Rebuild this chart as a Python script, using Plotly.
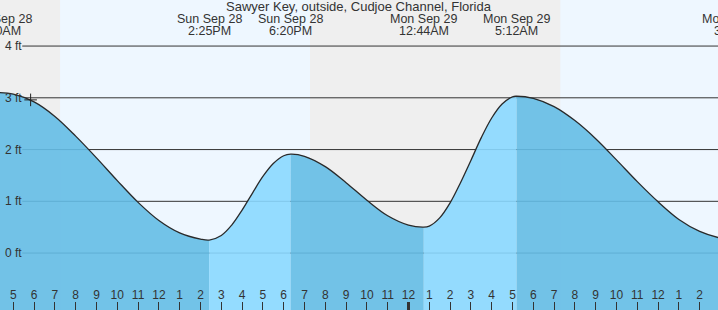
import plotly.graph_objects as go
from datetime import datetime

# ---------------- data ----------------
times = [
    "2025-09-28 04:20", "2025-09-28 05:00", "2025-09-28 06:00", "2025-09-28 07:00",
    "2025-09-28 08:00", "2025-09-28 09:00", "2025-09-28 10:00", "2025-09-28 11:00",
    "2025-09-28 12:00", "2025-09-28 13:00", "2025-09-28 14:00", "2025-09-28 14:25",
    "2025-09-28 15:00", "2025-09-28 15:30", "2025-09-28 16:00", "2025-09-28 16:30",
    "2025-09-28 17:00", "2025-09-28 17:30", "2025-09-28 18:00",
    "2025-09-28 18:20", "2025-09-28 19:00", "2025-09-28 20:00", "2025-09-28 21:00",
    "2025-09-28 22:00", "2025-09-28 23:00", "2025-09-29 00:00", "2025-09-29 00:44",
    "2025-09-29 01:00", "2025-09-29 01:30", "2025-09-29 02:00", "2025-09-29 02:30",
    "2025-09-29 03:00", "2025-09-29 03:30", "2025-09-29 04:00", "2025-09-29 04:30",
    "2025-09-29 05:00", "2025-09-29 05:12", "2025-09-29 06:00", "2025-09-29 07:00",
    "2025-09-29 08:00", "2025-09-29 09:00", "2025-09-29 10:00", "2025-09-29 11:00",
    "2025-09-29 12:00", "2025-09-29 13:00", "2025-09-29 14:00", "2025-09-29 15:00",
    "2025-09-29 15:44",
]
heights_ft = [
    3.10, 3.07, 2.92, 2.64,
    2.26, 1.84, 1.40, 0.98,
    0.63, 0.39, 0.27, 0.25,
    0.34, 0.54, 0.83, 1.16,
    1.48, 1.73, 1.88,
    1.91, 1.87, 1.67, 1.36,
    1.02, 0.72, 0.54, 0.50,
    0.52, 0.68, 0.97, 1.36,
    1.79, 2.23, 2.61, 2.88,
    3.02, 3.03, 2.99, 2.83,
    2.56, 2.21, 1.80, 1.38,
    0.99, 0.65, 0.42, 0.29,
    0.25,
]

extreme_times = ["2025-09-28 04:20", "2025-09-28 14:25", "2025-09-28 18:20",
                 "2025-09-29 00:44", "2025-09-29 05:12", "2025-09-29 15:44"]
extreme_day_labels = ["Sun Sep 28", "Sun Sep 28", "Sun Sep 28",
                      "Mon Sep 29", "Mon Sep 29", "Mon Sep 29"]
extreme_time_labels = ["4:20AM", "2:25PM", "6:20PM", "12:44AM", "5:12AM", "3:44PM"]

daylight = [("2025-09-28 07:15", "2025-09-28 19:16"),
            ("2025-09-29 07:18", "2025-09-29 19:15")]

y_ticks = [0, 1, 2, 3, 4]
y_tick_labels = ["0 ft", "1 ft", "2 ft", "3 ft", "4 ft"]
now_time = "2025-09-28 05:50"
now_height = 2.96

title = "Sawyer Key, outside, Cudjoe Channel, Florida"
x_range = ["2025-09-28 04:21:40", "2025-09-29 14:52:48"]
y_range = [-1.10, 4.89]

# ---------------- styling ----------------
FONT = "Liberation Sans, Arial, sans-serif"
TXT = "#333333"
NIGHT = "#efefef"
DAY = "#eef7ff"
FALL = "rgba(100,188,230,0.9)"
RISE = "rgba(138,216,255,0.9)"
W, H = 718, 310
SMOOTH = 1.0


def dt(s):
    for f in ("%Y-%m-%d %H:%M:%S", "%Y-%m-%d %H:%M"):
        try:
            return datetime.strptime(s, f)
        except ValueError:
            pass


t_all = [dt(s) for s in times]
xr0, xr1 = dt(x_range[0]), dt(x_range[1])


def frac(s):
    return (dt(s) - xr0).total_seconds() / (xr1 - xr0).total_seconds()


fig = go.Figure()

# filled segments between extremes
for i in range(len(extreme_times) - 1):
    a, b = dt(extreme_times[i]), dt(extreme_times[i + 1])
    seg_x = [t for t in t_all if a <= t <= b]
    seg_y = [h for t, h in zip(t_all, heights_ft) if a <= t <= b]
    color = FALL if seg_y[-1] < seg_y[0] else RISE
    fig.add_trace(go.Scatter(x=[a, b], y=[y_range[0] - 1, y_range[0] - 1], mode="lines",
                             line=dict(width=0), hoverinfo="skip", showlegend=False))
    fig.add_trace(go.Scatter(x=seg_x, y=seg_y, mode="lines", fill="tonexty",
                             fillcolor=color,
                             line=dict(width=0, shape="spline", smoothing=SMOOTH),
                             hoverinfo="skip", showlegend=False))

# tide curve
fig.add_trace(go.Scatter(x=t_all, y=heights_ft, mode="lines",
                         line=dict(color="#2a2a2a", width=1.3, shape="spline",
                                   smoothing=SMOOTH),
                         hoverinfo="skip", showlegend=False))

# current-time marker
fig.add_trace(go.Scatter(x=[dt(now_time)], y=[now_height], mode="markers",
                         marker=dict(symbol="cross-thin", size=9,
                                     line=dict(color="#222", width=1)),
                         hoverinfo="skip", showlegend=False))

shapes = [dict(type="rect", xref="paper", yref="paper", x0=0, x1=1, y0=0, y1=1,
               fillcolor=NIGHT, line=dict(width=0), layer="below")]
for s0, s1 in daylight:
    shapes.append(dict(type="rect", xref="x", yref="paper", x0=dt(s0), x1=dt(s1),
                       y0=0, y1=1, fillcolor=DAY, line=dict(width=0), layer="below"))
for v in y_ticks:
    shapes.append(dict(type="line", xref="paper", yref="y", x0=0.031, x1=1, y0=v, y1=v,
                       line=dict(color="#333", width=1), layer="between"))
# thicker midnight tick
shapes.append(dict(type="line", xref="x", yref="paper",
                   x0=dt("2025-09-29 00:00"), x1=dt("2025-09-29 00:00"),
                   y0=0, y1=8 / H, line=dict(color="#333", width=3), layer="above"))

annotations = [dict(text=title, xref="paper", yref="paper", x=0.5, y=1 - 6 / H,
                    xanchor="center", yanchor="middle", showarrow=False,
                    font=dict(family=FONT, size=13, color=TXT))]
for t, d, tl in zip(extreme_times, extreme_day_labels, extreme_time_labels):
    fx = frac(t)
    annotations.append(dict(text=d, xref="paper", yref="paper", x=fx, y=1 - 18.5 / H,
                            xanchor="center", yanchor="middle", showarrow=False,
                            font=dict(family=FONT, size=12.5, color=TXT)))
    annotations.append(dict(text=tl, xref="paper", yref="paper", x=fx, y=1 - 31 / H,
                            xanchor="center", yanchor="middle", showarrow=False,
                            font=dict(family=FONT, size=12.5, color=TXT)))
for v, lab in zip(y_ticks, y_tick_labels):
    annotations.append(dict(text=lab, xref="paper", yref="y", x=0.004, y=v,
                            xanchor="left", yanchor="middle", showarrow=False,
                            font=dict(family=FONT, size=12, color=TXT)))

fig.update_layout(
    width=W, height=H, margin=dict(l=0, r=0, t=0, b=0),
    paper_bgcolor="white", plot_bgcolor=NIGHT,
    shapes=shapes, annotations=annotations, hovermode=False,
    xaxis=dict(range=[xr0, xr1], type="date", tick0="2025-09-28 00:00", dtick=3600000,
               tickformat="%-I", ticks="inside", ticklen=8, tickwidth=1, tickcolor="#333",
               ticklabelposition="inside", tickfont=dict(family=FONT, size=12, color=TXT),
               showgrid=False, zeroline=False, showline=False, fixedrange=True),
    yaxis=dict(range=y_range, showticklabels=False, ticks="",
               showgrid=False, zeroline=False, showline=False, fixedrange=True),
)

fig.write_html("out.html", config={"displayModeBar": False})
